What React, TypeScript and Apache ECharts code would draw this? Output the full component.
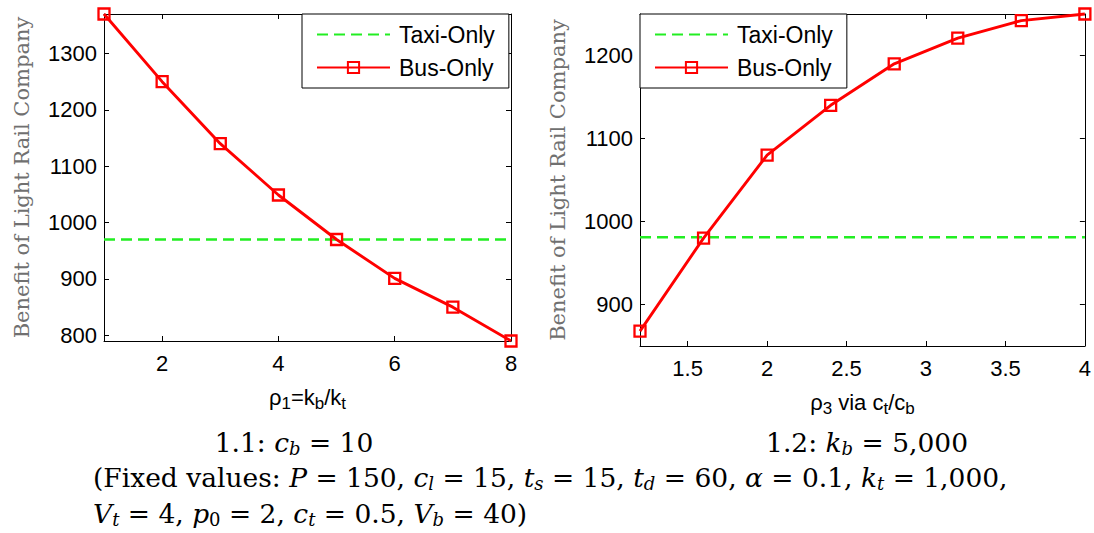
import React, { useEffect, useRef } from "react";
import * as echarts from "echarts";

const RHO1 = [1, 2, 3, 4, 5, 6, 7, 8];
const BUS_1 = [1370, 1250, 1140, 1049, 970, 901, 850, 790];
const TAXI_1 = 970;
const RHO3 = [1.2, 1.6, 2.0, 2.4, 2.8, 3.2, 3.6, 4.0];
const BUS_2 = [868, 980, 1080, 1140, 1190, 1221, 1242, 1250];
const TAXI_2 = 981;
const X1_TICKS = [2, 4, 6, 8];
const Y1_TICKS = [800, 900, 1000, 1100, 1200, 1300];
const X2_TICKS = [1.5, 2, 2.5, 3, 3.5, 4];
const Y2_TICKS = [900, 1000, 1100, 1200];
const X1_RANGE = [1, 8];
const Y1_RANGE = [790, 1370];
const X2_RANGE = [1.2, 4];
const Y2_RANGE = [850, 1250];

const SANS = "Liberation Sans, Arial, sans-serif";
const SERIF = "DejaVu Serif, Liberation Serif, serif";

const subRich = {
  s: { fontSize: 17, fontFamily: SANS, color: "#000", padding: [12, 0, 0, 0], lineHeight: 17 },
};

const plain = (v: number) => String(v);

function xAxes(grid: number, range: number[], ticks: number[], name: string) {
  return [
    {
      type: "value",
      gridIndex: grid,
      min: range[0],
      max: range[1],
      position: "bottom",
      axisLine: { show: true, onZero: false, lineStyle: { color: "#000", width: 1 } },
      axisTick: { show: true, inside: true, length: 5, customValues: ticks, lineStyle: { color: "#000" } },
      axisLabel: { customValues: ticks, formatter: plain, color: "#000", fontSize: 22, fontFamily: SANS, margin: 11 },
      splitLine: { show: false },
      name,
      nameLocation: "middle",
      nameGap: 44,
      nameTextStyle: { color: "#000", fontSize: 22, fontFamily: SANS, rich: subRich, lineHeight: 24 },
    },
    {
      type: "value",
      gridIndex: grid,
      min: range[0],
      max: range[1],
      position: "top",
      axisLine: { show: true, onZero: false, lineStyle: { color: "#000", width: 1 } },
      axisTick: { show: true, inside: true, length: 5, customValues: ticks, lineStyle: { color: "#000" } },
      axisLabel: { show: false },
      splitLine: { show: false },
    },
  ];
}

function yAxes(grid: number, range: number[], ticks: number[]) {
  return [
    {
      type: "value",
      gridIndex: grid,
      min: range[0],
      max: range[1],
      position: "left",
      axisLine: { show: true, onZero: false, lineStyle: { color: "#000", width: 1 } },
      axisTick: { show: true, inside: true, length: 5, customValues: ticks, lineStyle: { color: "#000" } },
      axisLabel: { customValues: ticks, formatter: plain, color: "#000", fontSize: 22, fontFamily: SANS, margin: 7 },
      splitLine: { show: false },
      name: "Benefit of Light Rail Company",
      nameLocation: "middle",
      nameGap: 72,
      nameTextStyle: { color: "#707070", fontSize: 21, fontFamily: SERIF },
    },
    {
      type: "value",
      gridIndex: grid,
      min: range[0],
      max: range[1],
      position: "right",
      axisLine: { show: true, onZero: false, lineStyle: { color: "#000", width: 1 } },
      axisTick: { show: true, inside: true, length: 5, customValues: ticks, lineStyle: { color: "#000" } },
      axisLabel: { show: false },
      splitLine: { show: false },
    },
  ];
}

function seriesFor(xi: number, yi: number, xs: number[], bus: number[], taxi: number, range: number[]) {
  return [
    {
      name: "Taxi-Only",
      type: "line",
      xAxisIndex: xi,
      yAxisIndex: yi,
      data: [[range[0], taxi], [range[1], taxi]],
      showSymbol: false,
      symbol: "none",
      lineStyle: { color: "#22ee22", width: 2.6, type: [11, 6] },
      itemStyle: { color: "rgba(0,0,0,0)" },
      z: 2,
    },
    {
      name: "Bus-Only",
      type: "line",
      xAxisIndex: xi,
      yAxisIndex: yi,
      data: xs.map((x, i) => [x, bus[i]]),
      symbol: "rect",
      symbolSize: 11,
      clip: false,
      lineStyle: { color: "#ff0000", width: 2.9 },
      itemStyle: { color: "rgba(255,255,255,0)", borderColor: "#ff0000", borderWidth: 2.3 },
      z: 3,
    },
  ];
}

function legendAt(left: number) {
  return {
    left,
    top: 14,
    orient: "vertical",
    selectedMode: false,
    backgroundColor: "#fff",
    borderColor: "#000",
    borderWidth: 1,
    borderRadius: 0,
    padding: [9, 14, 9, 14],
    itemWidth: 73,
    itemHeight: 14,
    itemGap: 10,
    textStyle: { color: "#000", fontSize: 23, fontFamily: SANS, padding: [0, 0, 0, 4] },
    data: [{ name: "Taxi-Only" }, { name: "Bus-Only" }],
  };
}

const CAP_RICH = {
  i: { fontStyle: "italic", fontSize: 26.5, fontFamily: SERIF, lineHeight: 30, color: "#000" },
  s: { fontStyle: "italic", fontSize: 18, fontFamily: SERIF, lineHeight: 18, padding: [13, 0, 0, 0], color: "#000" },
  u: { fontSize: 18, fontFamily: SERIF, lineHeight: 18, padding: [13, 0, 0, 0], color: "#000" },
};

function caption(text: string, x: number, y: number, align: string) {
  return {
    type: "text",
    x,
    y,
    style: {
      text,
      rich: CAP_RICH,
      fontSize: 26.5,
      fontFamily: SERIF,
      lineHeight: 30,
      fill: "#000",
      align,
      verticalAlign: "middle",
    },
  };
}

export default function App() {
  const ref = useRef<HTMLDivElement>(null);
  useEffect(() => {
    if (!ref.current) return;
    const chart = echarts.init(ref.current, undefined, { renderer: "svg" });
    const option: any = {
      animation: false,
      backgroundColor: "#fff",
      grid: [
        { left: 104, top: 14, width: 407, height: 327 },
        { left: 640, top: 14, width: 447, height: 332 },
      ],
      legend: [legendAt(302), legendAt(640)],
      xAxis: [
        ...xAxes(0, X1_RANGE, X1_TICKS, "ρ{s|1}=k{s|b}/k{s|t}"),
        ...xAxes(1, X2_RANGE, X2_TICKS, "ρ{s|3} via c{s|t}/c{s|b}"),
      ],
      yAxis: [...yAxes(0, Y1_RANGE, Y1_TICKS), ...yAxes(1, Y2_RANGE, Y2_TICKS)],
      series: [
        ...seriesFor(0, 0, RHO1, BUS_1, TAXI_1, X1_RANGE),
        ...seriesFor(2, 2, RHO3, BUS_2, TAXI_2, X2_RANGE),
      ],
      graphic: [
        caption("1.1: {i|c}{s|b} = 10", 294, 442, "center"),
        caption("1.2: {i|k}{s|b} = 5,000", 867, 442, "center"),
        caption(
          "(Fixed values: {i|P} = 150, {i|c}{s|l} = 15, {i|t}{s|s} = 15, {i|t}{s|d} = 60, {i|α} = 0.1, {i|k}{s|t} = 1,000,",
          93,
          477,
          "left"
        ),
        caption("{i|V}{s|t} = 4, {i|p}{u|0} = 2, {i|c}{s|t} = 0.5, {i|V}{s|b} = 40)", 93, 513, "left"),
      ],
    };
    chart.setOption(option);
    return () => chart.dispose();
  }, []);
  return (
    <div
      ref={ref}
      style={{ position: "absolute", left: 0, top: 0, width: 1094, height: 533, background: "#fff" }}
    />
  );
}
